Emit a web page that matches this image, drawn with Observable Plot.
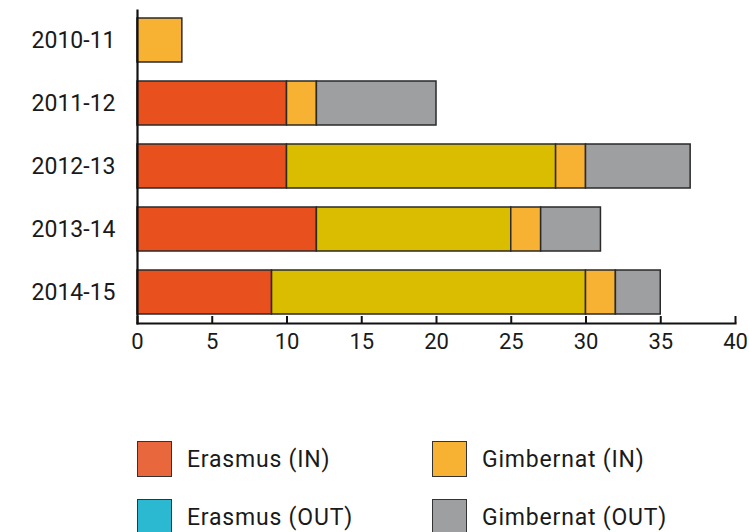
<!DOCTYPE html>
<html>
<head>
<meta charset="utf-8">
<script src="https://cdn.jsdelivr.net/npm/d3@7"></script>
<script src="https://cdn.jsdelivr.net/npm/@observablehq/plot@0.6"></script>
<style>
  html, body { margin: 0; padding: 0; background: #fff; }
  body { width: 749px; height: 532px; overflow: hidden; font-family: Roboto, "DejaVu Sans Condensed", sans-serif; }
  #chart svg { display: block; }
  .legend { position: relative; height: 176px; }
  .item { position: absolute; display: flex; align-items: center; font-size: 23px; color: #1a1a1a; letter-spacing: 0.8px; }
  .sw { width: 35px; height: 36px; box-sizing: border-box; border: 1.5px solid #333; margin-right: 15px; }
</style>
</head>
<body>
<div id="chart"></div>
<div class="legend" id="legend"></div>
<script>
const years = ["2010-11", "2011-12", "2012-13", "2013-14", "2014-15"];
const erasmusIn  = [0, 10, 10, 12, 9];
const erasmusOut = [0, 0, 18, 13, 21];
const gimbernatIn  = [3, 2, 2, 2, 2];
const gimbernatOut = [0, 8, 7, 4, 3];
const seriesNames = ["Erasmus (IN)", "Erasmus (OUT)", "Gimbernat (IN)", "Gimbernat (OUT)"];
const barColors = ["#e8501e", "#dbbd00", "#f7b133", "#9e9fa1"];
const legendColors = ["#e8673c", "#2bb8d1", "#f7b133", "#9e9fa1"];
const xTicks = [0, 5, 10, 15, 20, 25, 30, 35, 40];

const seriesValues = [erasmusIn, erasmusOut, gimbernatIn, gimbernatOut];
const rows = [];
years.forEach((y, i) => {
  seriesNames.forEach((s, j) => {
    rows.push({year: y, series: s, value: seriesValues[j][i]});
  });
});
const data = rows.filter(d => d.value > 0);

const chart = Plot.plot({
  width: 749,
  height: 356,
  marginTop: 10,
  marginBottom: 33,
  marginLeft: 137,
  marginRight: 14,
  style: {fontFamily: 'Roboto, "DejaVu Sans Condensed", sans-serif', fontSize: "23px", color: "#1a1a1a"},
  x: {domain: [0, 40]},
  y: {domain: years, paddingInner: 0.294, paddingOuter: 0.127},
  color: {domain: seriesNames, range: barColors},
  marks: [
    Plot.barX(data, Plot.stackX({
      x: "value", y: "year", fill: "series",
      order: seriesNames,
      stroke: "#2a2a2a", strokeWidth: 1.5
    })),
    Plot.frame({anchor: "left", stroke: "#111", strokeWidth: 2.2}),
    Plot.frame({anchor: "bottom", stroke: "#111", strokeWidth: 2.2}),
    Plot.axisX({ticks: xTicks, tickSize: -7, tickPadding: 17, stroke: "#111", strokeWidth: 2, fontSize: 22, label: null}),
    Plot.axisY({tickSize: 0, tickPadding: 22, fontSize: 23, label: null})
  ]
});
document.getElementById("chart").appendChild(chart);

const legend = document.getElementById("legend");
const pos = [[137, 85], [432, 85], [137, 143], [432, 143]];
const legendOrder = [0, 2, 1, 3];
legendOrder.forEach((j, k) => {
  const it = document.createElement("div");
  it.className = "item";
  it.style.left = pos[k][0] + "px";
  it.style.top = pos[k][1] + "px";
  const sw = document.createElement("div");
  sw.className = "sw";
  sw.style.background = legendColors[j];
  const t = document.createElement("span");
  t.textContent = seriesNames[j];
  it.appendChild(sw);
  it.appendChild(t);
  legend.appendChild(it);
});
</script>
</body>
</html>
